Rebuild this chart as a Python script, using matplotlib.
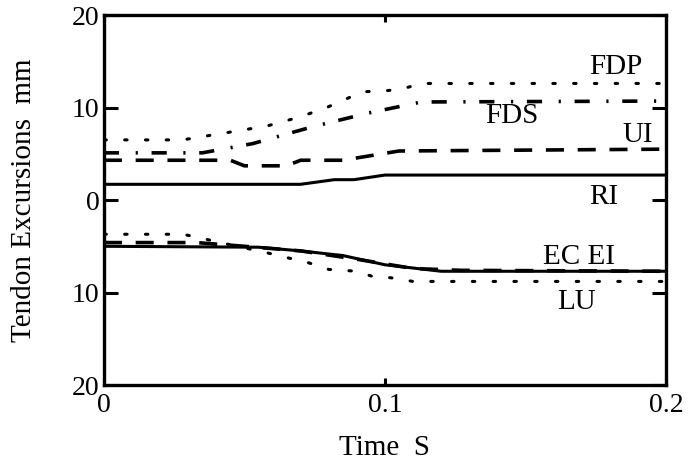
import matplotlib
matplotlib.use("Agg")
import matplotlib.pyplot as plt
from matplotlib.ticker import FuncFormatter

plt.rcParams['font.family'] = ['Liberation Serif', 'DejaVu Serif']

# tendon excursion curves (mm), upper = flexors, lower = extensors
t_fdp = [0, 0.028, 0.04, 0.058, 0.07, 0.08, 0.092, 0.1, 0.106, 0.113, 0.2]
v_fdp = [6.5, 6.5, 7.1, 8.0, 9.0, 10.1, 11.7, 11.8, 12.0, 12.6, 12.6]

t_fds = [0, 0.035, 0.053, 0.074, 0.094, 0.113, 0.2]
v_fds = [5.1, 5.1, 6.1, 7.9, 9.4, 10.6, 10.7]

t_ui = [0, 0.045, 0.05, 0.065, 0.07, 0.085, 0.105, 0.2]
v_ui = [4.3, 4.3, 3.7, 3.7, 4.3, 4.3, 5.3, 5.5]

t_ri = [0, 0.07, 0.082, 0.089, 0.1, 0.2]
v_ri = [1.7, 1.7, 2.2, 2.2, 2.7, 2.7]

t_ec = [0, 0.033, 0.05, 0.07, 0.09, 0.11, 0.127, 0.2]
v_ec = [-4.6, -4.6, -5.0, -5.5, -6.4, -7.4, -7.6, -7.7]

t_ei = [0, 0.055, 0.07, 0.085, 0.1, 0.12, 0.2]
v_ei = [-5.0, -5.1, -5.5, -6.0, -7.0, -7.7, -7.7]

t_lu = [0, 0.028, 0.033, 0.04, 0.058, 0.073, 0.08, 0.09, 0.096, 0.102, 0.11, 0.2]
v_lu = [-3.7, -3.7, -4.0, -4.5, -5.7, -6.8, -7.5, -7.7, -8.3, -8.4, -8.8, -8.8]

labels = ['FDP', 'FDS', 'UI', 'RI', 'EC EI', 'LU']
label_pos = [(0.182, 14.4), (0.145, 9.1), (0.190, 7.0), (0.178, 0.3), (0.169, -6.2), (0.168, -11.0)]

fig = plt.figure(figsize=(6.88, 4.69), dpi=100)
ax = fig.add_axes([0.151, 0.179, 0.817, 0.789])

dotted = (0, (0.8, 6))
dashdot = (0, (4.2, 4.6, 0.6, 3.8))
dashed = (0, (5.0, 3.8))

ax.plot(t_fdp, v_fdp, color='k', lw=2.2, linestyle=dotted, dash_capstyle='round')
ax.plot(t_fds, v_fds, color='k', lw=2.6, linestyle=dashdot)
ax.plot(t_ui, v_ui, color='k', lw=2.6, linestyle=dashed)
ax.plot(t_ri, v_ri, color='k', lw=2.2)
ax.plot(t_ec, v_ec, color='k', lw=2.6, linestyle=dashed)
ax.plot(t_ei, v_ei, color='k', lw=2.2)
ax.plot(t_lu, v_lu, color='k', lw=2.2, linestyle=dotted, dash_capstyle='round')

for txt, (x, y) in zip(labels, label_pos):
    ax.text(x, y, txt, fontsize=21, ha='center', va='center')

ax.set_xlim(0, 0.2)
ax.set_ylim(-20, 20)
ax.set_xticks([0, 0.1, 0.2])
ax.set_xticklabels(['0', '0.1', '0.2'])
ax.set_yticks([-20, -10, 0, 10, 20])
ax.yaxis.set_major_formatter(FuncFormatter(lambda v, p: '%d' % abs(v)))

ax.tick_params(axis='y', direction='in', length=10, width=2.2, right=True, labelsize=20, pad=3)
ax.tick_params(axis='x', direction='in', length=5, width=2.2, top=True, labelsize=20, pad=6)
for s in ax.spines.values():
    s.set_linewidth(2.4)

ax.set_xlabel('Time  S', fontsize=21, labelpad=12)
ax.set_ylabel('Tendon Excursions  mm', fontsize=21, labelpad=25)

fig.savefig('out.png', dpi=100)
